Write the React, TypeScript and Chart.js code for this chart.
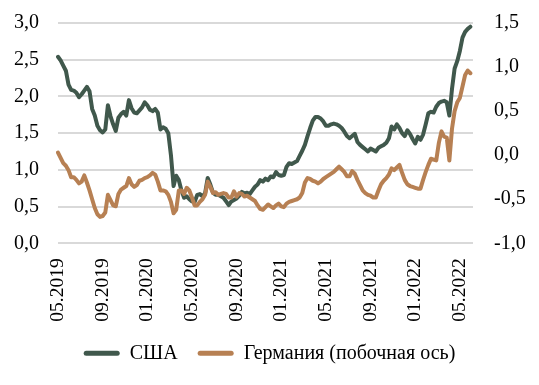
import { useEffect, useRef } from 'react';
import { Chart, registerables } from 'chart.js';

Chart.register(...registerables);

const tickLabels = ['05.2019', '09.2019', '01.2020', '05.2020', '09.2020', '01.2021', '05.2021', '09.2021', '01.2022', '05.2022'];
const TICK_EVERY = 17;

const usYield = [
  2.54, 2.49, 2.42, 2.35, 2.16, 2.09, 2.08, 2.05, 1.99, 2.03,
  2.08, 2.13, 2.07, 1.83, 1.74, 1.60, 1.54, 1.51, 1.55, 1.88,
  1.73, 1.62, 1.53, 1.71, 1.76, 1.79, 1.74, 1.95, 1.84, 1.78,
  1.77, 1.81, 1.85, 1.92, 1.88, 1.82, 1.80, 1.83, 1.78, 1.55,
  1.58, 1.56, 1.50, 1.20, 0.78, 0.92, 0.86, 0.72, 0.62, 0.64,
  0.60, 0.57, 0.56, 0.66, 0.67, 0.64, 0.68, 0.89, 0.80, 0.69,
  0.66, 0.66, 0.64, 0.62, 0.57, 0.52, 0.57, 0.59, 0.61, 0.65,
  0.70, 0.68, 0.69, 0.67, 0.72, 0.77, 0.80, 0.86, 0.84, 0.88,
  0.86, 0.91, 0.90, 0.97, 0.93, 0.92, 0.93, 1.04, 1.09, 1.08,
  1.10, 1.12, 1.19, 1.26, 1.34, 1.46, 1.57, 1.67, 1.72, 1.72,
  1.70, 1.66, 1.60, 1.60, 1.62, 1.63, 1.62, 1.60, 1.57, 1.52,
  1.46, 1.43, 1.46, 1.49, 1.38, 1.34, 1.31, 1.28, 1.25, 1.29,
  1.27, 1.25, 1.30, 1.32, 1.34, 1.37, 1.43, 1.59, 1.55, 1.62,
  1.57, 1.50, 1.46, 1.54, 1.49, 1.42, 1.36, 1.45, 1.41, 1.48,
  1.62, 1.77, 1.79, 1.78, 1.86, 1.91, 1.93, 1.94, 1.92, 1.74,
  2.10, 2.38, 2.48, 2.62, 2.80, 2.88, 2.92, 2.95,
];

const deYield = [
  0.03, -0.03, -0.09, -0.12, -0.17, -0.25, -0.25, -0.28, -0.32, -0.30,
  -0.23, -0.31, -0.40, -0.50, -0.60, -0.67, -0.70, -0.69, -0.65, -0.45,
  -0.51, -0.57, -0.58, -0.44, -0.39, -0.37, -0.35, -0.26, -0.33, -0.36,
  -0.34, -0.29, -0.28, -0.26, -0.25, -0.23, -0.20, -0.22, -0.30, -0.40,
  -0.40, -0.41, -0.45, -0.53, -0.66, -0.62, -0.40, -0.40, -0.44, -0.37,
  -0.40, -0.48, -0.57, -0.57, -0.53, -0.50, -0.45, -0.30, -0.36, -0.43,
  -0.42, -0.45, -0.44, -0.43, -0.44, -0.48, -0.48, -0.41, -0.47, -0.43,
  -0.44, -0.47, -0.46, -0.48, -0.50, -0.52, -0.57, -0.61, -0.62, -0.59,
  -0.56, -0.58, -0.60, -0.57, -0.55, -0.58, -0.59, -0.55, -0.53, -0.52,
  -0.51, -0.50, -0.48, -0.43, -0.31, -0.26, -0.27, -0.29, -0.30, -0.32,
  -0.30, -0.27, -0.25, -0.23, -0.21, -0.19, -0.16, -0.13, -0.16, -0.19,
  -0.24, -0.24, -0.18, -0.21, -0.28, -0.34, -0.40, -0.43, -0.45, -0.46,
  -0.48, -0.48, -0.40, -0.33, -0.29, -0.26, -0.22, -0.15, -0.17, -0.14,
  -0.11, -0.20, -0.28, -0.33, -0.35, -0.36, -0.37, -0.38, -0.38, -0.28,
  -0.19, -0.11, -0.04, -0.05, -0.06, 0.14, 0.27, 0.21, 0.20, -0.06,
  0.30, 0.50, 0.60, 0.65, 0.78, 0.91, 0.96, 0.93,
];

// one spare slot after the last week keeps the lines short of the right edge, as in the original
const categories = Array.from({ length: usYield.length + 1 }, (_, i) =>
  i % TICK_EVERY === 0 && tickLabels[i / TICK_EVERY] ? tickLabels[i / TICK_EVERY] : ''
);

const US_COLOR = '#40584c';
const DE_COLOR = '#b78053';
const FONT_FAMILY = "'Liberation Serif', 'Times New Roman', serif";
const fmt = (v: number | string) => Number(v).toFixed(1).replace('.', ',');

export default function App() {
  const ref = useRef<HTMLCanvasElement | null>(null);

  useEffect(() => {
    document.body.style.margin = '0';
    const canvas = ref.current;
    if (!canvas) return;
    const font = { family: FONT_FAMILY, size: 20 };
    const xFont = { family: FONT_FAMILY, size: 19.5 };
    const chart = new Chart(canvas, {
      type: 'line',
      data: {
        labels: categories,
        datasets: [
          {
            label: 'США',
            data: usYield,
            borderColor: US_COLOR,
            backgroundColor: US_COLOR,
            yAxisID: 'y',
            order: 1,
          },
          {
            label: 'Германия (побочная ось)',
            data: deYield,
            borderColor: DE_COLOR,
            backgroundColor: DE_COLOR,
            yAxisID: 'y1',
            order: 0,
          },
        ],
      },
      options: {
        responsive: false,
        animation: false,
        layout: { padding: { left: 0, right: 0, top: 23, bottom: 11.7 } },
        elements: {
          point: { radius: 0 },
          line: { tension: 0, borderWidth: 4, borderCapStyle: 'round', borderJoinStyle: 'round' },
        },
        plugins: {
          tooltip: { enabled: false },
          legend: {
            position: 'bottom',
            labels: {
              font,
              color: '#000',
              boxWidth: 36,
              boxHeight: 5,
              padding: 20,
              useBorderRadius: true,
              borderRadius: 2.5,
              sort: (a: any, b: any) => a.datasetIndex - b.datasetIndex,
              generateLabels: (c: any) =>
                Chart.defaults.plugins.legend.labels
                  .generateLabels(c)
                  .map((l: any) => ({ ...l, lineWidth: 0 })),
            },
          },
        },
        scales: {
          x: {
            type: 'category',
            offset: false,
            grid: { display: false, drawTicks: false },
            border: { display: false },
            ticks: {
              autoSkip: false,
              maxRotation: 90,
              minRotation: 90,
              padding: 15,
              color: '#000',
              font: xFont,
            },
            afterFit: (s: any) => {
              s.height = 80;
              s.paddingLeft = 0;
              s.paddingRight = 0;
            },
          },
          y: {
            position: 'left',
            min: 0,
            max: 3,
            border: { display: false },
            grid: { color: '#d9d9d9', lineWidth: 2, drawTicks: false },
            ticks: { stepSize: 0.5, padding: 19, color: '#000', font, callback: (v: any) => fmt(v) },
            afterFit: (s: any) => {
              s.width = 58;
              s.paddingTop = 0;
              s.paddingBottom = 0;
            },
          },
          y1: {
            position: 'right',
            min: -1,
            max: 1.5,
            border: { display: false },
            grid: { display: false, drawTicks: false },
            ticks: { stepSize: 0.5, padding: 21, color: '#000', font, callback: (v: any) => fmt(v) },
            afterFit: (s: any) => {
              s.width = 66;
              s.paddingTop = 0;
              s.paddingBottom = 0;
            },
          },
        },
      },
    } as any);
    return () => chart.destroy();
  }, []);

  return (
    <div style={{ width: 539, height: 385 }}>
      <canvas ref={ref} width={539} height={385} />
    </div>
  );
}
